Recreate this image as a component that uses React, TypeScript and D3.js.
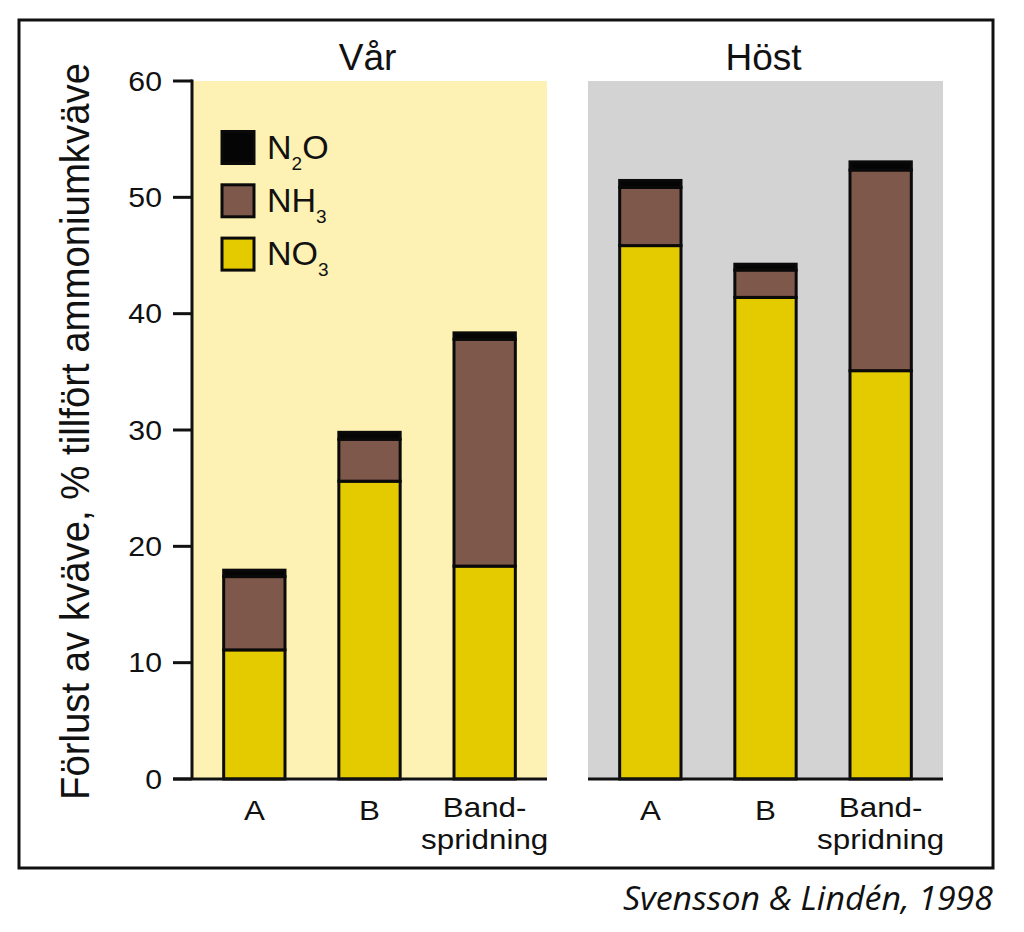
import React from "react";
import * as d3 from "d3";

// ---- data ----
const panelTitles = ["Vår", "Höst"];
const categoryLines = [["A"], ["B"], ["Band-", "spridning"]];
const seriesKeys = ["NO3", "NH3", "N2O"];

const no3Var = [11.1, 25.6, 18.3];
const nh3Var = [6.3, 3.6, 19.5];
const n2oVar = [0.55, 0.6, 0.55];

const no3Host = [45.85, 41.4, 35.1];
const nh3Host = [5.0, 2.35, 17.25];
const n2oHost = [0.6, 0.5, 0.7];

const yTicks = [0, 10, 20, 30, 40, 50, 60];
const citation = "Svensson & Lindén, 1998";
const yLabel = "Förlust av kväve, % tillfört ammoniumkväve";

// ---- style ----
const W = 1024;
const H = 932;
const FONT = "'Liberation Sans', Arial, Helvetica, sans-serif";
const colors: Record<string, string> = {
  NO3: "#e4cb00",
  NH3: "#7e584a",
  N2O: "#050505",
};
const panelFills = ["#fdf2b3", "#d3d3d3"];
const panelRanges: [number, number][] = [
  [192, 547],
  [588, 943],
];

const y = d3.scaleLinear().domain([0, 60]).range([779, 81]);

function buildRows(no3: number[], nh3: number[], n2o: number[]) {
  return no3.map((v, i) => ({ idx: i, NO3: v, NH3: nh3[i], N2O: n2o[i] }));
}

const panelRows = [
  buildRows(no3Var, nh3Var, n2oVar),
  buildRows(no3Host, nh3Host, n2oHost),
];

const stack = d3.stack<any>().keys(seriesKeys);

function Sub({ base, sub, tail, x, yy }: { base: string; sub: string; tail?: string; x: number; yy: number }) {
  return (
    <text x={x} y={yy} fontSize={34} fontFamily={FONT} fill="#111">
      {base}
      <tspan fontSize={19} dy={11}>{sub}</tspan>
      {tail ? <tspan dy={-11}>{tail}</tspan> : null}
    </text>
  );
}

export default function App() {
  return (
    <div style={{ position: "absolute", left: 0, top: 0 }}>
      <svg width={W} height={H} viewBox={`0 0 ${W} ${H}`} style={{ display: "block", background: "#fff" }}>
        {/* outer frame */}
        <rect x={19} y={20} width={974} height={848} fill="none" stroke="#111" strokeWidth={3} />

        {panelRows.map((rows, p) => {
          const [x0, x1] = panelRanges[p];
          const x = d3
            .scaleBand<number>()
            .domain(rows.map((r) => r.idx))
            .range([x0, x1])
            .paddingInner(0.4675)
            .paddingOuter(0.275);
          const layers = stack(rows);
          return (
            <g key={p}>
              <rect x={x0} y={y(60)} width={x1 - x0} height={y(0) - y(60)} fill={panelFills[p]} />
              <text
                x={(x0 + x1) / 2 - 2}
                y={70}
                textAnchor="middle"
                fontSize={37}
                fontFamily={FONT}
                fill="#111"
              >
                {panelTitles[p]}
              </text>
              {layers.map((layer) =>
                layer.map((d: any, i: number) => (
                  <rect
                    key={layer.key + i}
                    x={x(rows[i].idx)}
                    y={y(d[1])}
                    width={x.bandwidth()}
                    height={y(d[0]) - y(d[1])}
                    fill={colors[layer.key]}
                    stroke="#0a0a0a"
                    strokeWidth={3}
                  />
                ))
              )}
              {/* baseline */}
              <line
                x1={p === 0 ? 173 : x0}
                x2={x1}
                y1={y(0)}
                y2={y(0)}
                stroke="#111"
                strokeWidth={3}
              />
              {categoryLines.map((lines, i) => {
                const cx = (x(i) as number) + x.bandwidth() / 2;
                const baseY = lines.length === 1 ? 820 : 817;
                return (
                  <text
                    key={i}
                    textAnchor="middle"
                    fontSize={28.5}
                    fontFamily={FONT}
                    fill="#111"
                    transform={`translate(${cx},0) scale(1.1,1)`}
                  >
                    {lines.map((ln, k) => (
                      <tspan key={k} x={0} y={baseY + k * 32}>
                        {ln}
                      </tspan>
                    ))}
                  </text>
                );
              })}
            </g>
          );
        })}

        {/* y axis */}
        <line x1={192} x2={192} y1={y(60) - 1.5} y2={y(0)} stroke="#111" strokeWidth={3} />
        {yTicks.map((t) => (
          <g key={t}>
            <line x1={173} x2={192} y1={y(t)} y2={y(t)} stroke="#111" strokeWidth={3} />
            <text
              transform={`translate(162,${y(t) + 9.6}) scale(1.12,1)`}
              textAnchor="end"
              fontSize={27}
              fontFamily={FONT}
              fill="#111"
            >
              {t}
            </text>
          </g>
        ))}
        <text
          transform={`translate(89,${(63 + 800) / 2}) rotate(-90)`}
          textAnchor="middle"
          fontSize={40}
          fontFamily={FONT}
          fill="#111"
          textLength={737}
          lengthAdjust="spacingAndGlyphs"
        >
          {yLabel}
        </text>

        {/* legend */}
        {["N2O", "NH3", "NO3"].map((k, i) => (
          <rect
            key={k}
            x={222}
            y={131.5 + i * 53.3}
            width={32}
            height={32}
            fill={colors[k]}
            stroke="#0a0a0a"
            strokeWidth={3}
          />
        ))}
        <Sub base="N" sub="2" tail="O" x={267} yy={158.5} />
        <Sub base="NH" sub="3" x={267} yy={211.8} />
        <Sub base="NO" sub="3" x={267} yy={265.1} />

        {/* citation */}
        <text
          x={993}
          y={910}
          textAnchor="end"
          fontSize={32}
          fontStyle="italic"
          fontFamily="'Open Sans', 'Liberation Sans', sans-serif"
          fill="#111"
          textLength={370}
          lengthAdjust="spacingAndGlyphs"
        >
          {citation}
        </text>
      </svg>
    </div>
  );
}
